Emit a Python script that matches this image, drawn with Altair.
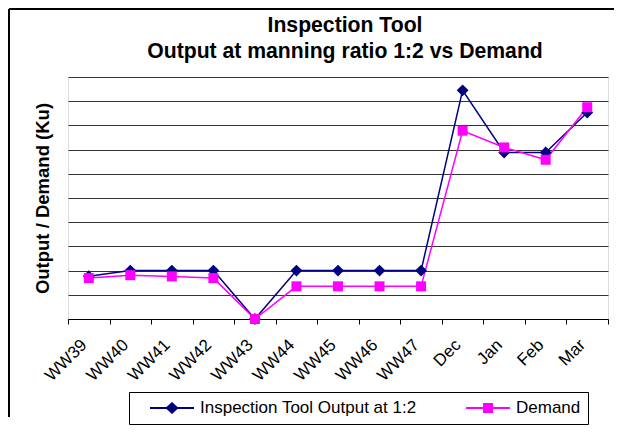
import altair as alt
import pandas as pd

periods = ["WW39", "WW40", "WW41", "WW42", "WW43", "WW44", "WW45",
           "WW46", "WW47", "Dec", "Jan", "Feb", "Mar"]
output_vals = [1.77, 2.0, 2.0, 2.0, 0.0, 2.0, 2.0, 2.0, 2.0, 9.45, 6.88, 6.88, 8.53]
demand_vals = [1.69, 1.81, 1.76, 1.69, 0.0, 1.35, 1.35, 1.35, 1.35, 7.78, 7.09, 6.58, 8.75]
series_names = ["Inspection Tool Output at 1:2", "Demand"]
series_colors = ["#000080", "#FF00FF"]
title_lines = ["Inspection Tool", "Output at manning ratio 1:2 vs Demand"]
y_title = "Output / Demand (Ku)"
grid_values = list(range(0, 11))

rows = []
for p, o, d in zip(periods, output_vals, demand_vals):
    rows.append({"period": p, "series": series_names[0], "value": o})
    rows.append({"period": p, "series": series_names[1], "value": d})
df = pd.DataFrame(rows)

FONT = "Liberation Sans"
W, H = 540, 242

x_enc = alt.X(
    "period:N", sort=periods,
    scale=alt.Scale(type="band", paddingInner=0, paddingOuter=0),
    axis=alt.Axis(title=None, labelAngle=-45, labelAlign="right", labelBaseline="middle",
                  labelFont=FONT, labelFontSize=17, labelColor="black",
                  labelPadding=18, labelOffset=-5, tickBand="extent", tickSize=5,
                  tickColor="black", domainColor="black", domainWidth=1, grid=False,
                  labelOverlap=False),
)
y_enc = alt.Y(
    "value:Q",
    scale=alt.Scale(domain=[0, 10], nice=False, zero=True),
    axis=alt.Axis(title=y_title, values=grid_values, labels=False, ticks=False,
                  domain=False, grid=True, gridColor="#333333", gridWidth=1,
                  titleFont=FONT, titleFontSize=18.5, titleFontWeight="bold",
                  titleColor="black", titlePadding=16),
)

diamond_path = ("M-0.517,-0.031H0.05L0.241,-0.207L0.432,-0.031H1V0.031H0.432"
                "L0.241,0.207L0.05,0.031H-0.517Z")
square_path = ("M-0.517,-0.031H0.069V-0.172H0.413V-0.031H1V0.031H0.413V0.172"
               "H0.069V0.031H-0.517Z")

legend = alt.Legend(
    title=None, orient="none", legendX=61, legendY=315, direction="horizontal",
    strokeColor="black", fillColor="white", padding=7, cornerRadius=0,
    labelFont=FONT, labelFontSize=17, labelColor="black", labelOffset=6,
    labelLimit=400, symbolSize=3364, symbolStrokeWidth=0, symbolOpacity=1,
    clipHeight=18, columnPadding=35,
)

base = alt.Chart(df).encode(x=x_enc, y=y_enc)

line_out = base.transform_filter(alt.datum.series == series_names[0]).mark_line(
    strokeWidth=1.5, color=series_colors[0])
line_dem = base.transform_filter(alt.datum.series == series_names[1]).mark_line(
    strokeWidth=1.5, color=series_colors[1])
pts_out = base.transform_filter(alt.datum.series == series_names[0]).mark_point(
    shape="diamond", filled=True, size=140, opacity=1, color=series_colors[0])
pts_dem = base.transform_filter(alt.datum.series == series_names[1]).mark_point(
    shape="square", filled=True, size=100, opacity=1, color=series_colors[1])

legend_layer = alt.Chart(df).transform_filter("false").mark_point(
    filled=True, opacity=1, strokeWidth=0).encode(
    color=alt.Color("series:N", scale=alt.Scale(domain=series_names, range=series_colors),
                    legend=legend),
    shape=alt.Shape("series:N", scale=alt.Scale(domain=series_names,
                                                range=[diamond_path, square_path]),
                    legend=legend),
)

frame_df = pd.DataFrame({"k": [0]})
top_rule = alt.Chart(frame_df).mark_rule(color="black", strokeWidth=2).encode(
    x=alt.value(-59), x2=alt.value(546), y=alt.value(-68))
left_rule = alt.Chart(frame_df).mark_rule(color="black", strokeWidth=2).encode(
    x=alt.value(-59), y=alt.value(-68), y2=alt.value(340))

title1 = alt.Chart(frame_df).mark_text(
    font=FONT, fontSize=21.2, fontWeight="bold", color="black", align="center",
    baseline="alphabetic").encode(x=alt.value(277), y=alt.value(-45),
                                  text=alt.value(title_lines[0]))
title2 = alt.Chart(frame_df).mark_text(
    font=FONT, fontSize=21.2, fontWeight="bold", color="black", align="center",
    baseline="alphabetic").encode(x=alt.value(277), y=alt.value(-19),
                                  text=alt.value(title_lines[1]))

chart = alt.layer(top_rule, left_rule, title1, title2, line_out, line_dem, pts_out, pts_dem,
                  legend_layer).properties(
    width=W, height=H, padding=0,
).configure_view(fill="#C0C0C0", stroke="#808080", strokeWidth=1).configure(background="white")

chart.save("out.html", embed_options={"renderer": "svg", "actions": False})
